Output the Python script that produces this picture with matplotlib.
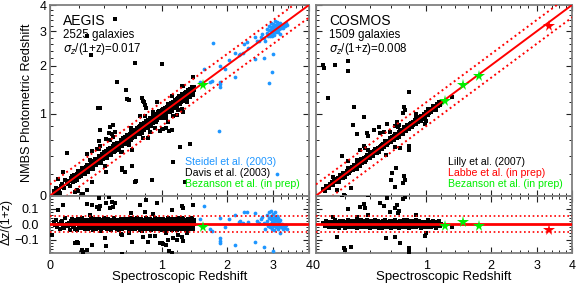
import numpy as np
import matplotlib
matplotlib.use("Agg")
import matplotlib.pyplot as plt
from matplotlib.ticker import FixedLocator, MultipleLocator, NullFormatter, FixedFormatter

plt.rcParams['font.family'] = ['Liberation Sans', 'DejaVu Sans']

# ---------------- DATA ----------------
# AEGIS main band (Davis et al. 2003): zspec (x1000) and dz/(1+z) (x1000)
aegis_band_zs = [22,31,38,47,55,61,70,78,86,93,101,108,117,124,131,138,144,149,
 152,155,159,164,166,171,175,178,183,186,190,195,197,202,206,209,214,217,221,226,228,233,236,240,245,247,252,256,258,263,266,270,274,277,282,285,289,293,295,300,304,307,312,315,319,323,326,331,334,338,342,345,349,353,357,361,364,368,372,375,380,383,387,391,394,398,
 402,405,409,412,416,420,423,427,430,434,438,441,445,448,452,456,459,463,466,470,474,477,481,484,488,492,495,499,502,506,510,513,517,520,524,528,531,535,538,542,546,549,553,556,560,564,567,571,574,578,582,585,589,592,596,600,603,607,610,614,618,621,625,628,632,636,639,643,646,650,654,657,661,664,668,672,675,679,682,686,690,693,697,700,704,708,711,715,718,722,726,729,733,736,740,744,747,751,754,758,762,765,769,772,776,780,783,787,790,794,798,801,805,808,812,816,819,823,826,830,834,837,841,844,848,852,855,859,862,866,870,873,877,880,884,888,891,895,898,902,906,909,913,916,920,924,927,931,934,938,942,945,949,952,956,960,963,967,970,974,978,981,985,988,992,996,999,
 1003,1007,1011,1014,1018,1022,1026,1030,1034,1038,1041,1045,1049,1053,1057,1061,1065,1068,1072,1076,1080,1084,1088,1092,1095,1099,1103,1107,1111,1115,1119,1122,1126,1130,1134,1138,1142,1146,1149,1153,1157,1161,1165,1169,1173,1176,1180,1184,1188,1192,1196,1200,1203,1207,1211,1215,1219,1223,1227,1230,1234,1238,1242,1246,1250,1254,1257,1261,1265,1269,1273,1277,1281,1284,1288,1292,1296,1300,1304,1308,1311,1315,1319,1323,1327,1331,1335,1338,1342,1346,1350,1354,1358,1362,1365,1369,1373,1377,1381,1385,1389,1392,1396,1400,1404,1408,1412,1416,1419,1423,1427,1431,1435,1439,1443,1447]
aegis_band_dz = [14,-6,27,-19,3,-33,11,22,-9,-25,36,1,-14,8,-41,19,-3,30,-22,5,
 -11,24,-29,7,16,-1,-37,12,33,-17,2,-8,21,-27,10,41,-13,-4,18,-21,
 6,-31,15,25,-10,-2,29,-18,9,-35,20,-7,13,-24,37,0,-15,26,-5,-39,
 17,-12,4,31,-23,11,-30,23,-1,8,-16,34,-26,3,14,-9,-43,19,28,-6,
 -20,10,-3,38,-14,21,-28,6,-11,24,-34,15,1,-19,32,-8,12,-25,5,27,
 -2,-36,18,9,-15,29,-7,-22,13,40,-10,3,-27,20,-4,11,-32,25,-16,7,
 23,-9,-40,16,2,-21,30,-13,8,-29,19,-5,35,-18,12,-1,-24,6,28,-11,
 -7,14,-26,33,-3,22,-17,10,-38,4,26,-12,17,-30,1,39,-8,-20,15,-4,
 9,-23,31,-14,18,-2,-33,24,-6,13,-19,36,-10,5,-28,21,-15,2,30,-37,
 -13,27,-1,-24,11,34,-18,7,-42,20,-5,16,-31,3,25,-9,12,-22,38,-16,
 4,-29,21,-8,15,-35,28,-12,0,19,-26,10,-3,33,-20,8,-40,17,-6,24,
 -18,6,-30,26,-4,13,-23,37,-11,2,-34,22,-15,9,29,-7,-27,14,-1,31,
 11,-21,35,-9,-2,20,-32,16,-14,27,-6,3,-39,23,-12,7,32,-19,1,-25,
 28,-3,-17,10,-36,19,-8,25,-22,4,15,-29,39,-13,0,-20,12,-33,21,-5,
 -10,30,-24,6,17,-41,13,-2,26,-16,8,-31,22,-7,34,-21,3,-12,18,-28,
 2,-15,24,-37,12,-5,29,-20,7,-26,36,-11,16,-1,-32,23,-9,14,-23,40,
 -8,19,-27,5,32,-14,-3,21,-35,11,-18,28,-6,15,-38,9,25,-16,0,-30,
 16,-4,-22,35,-12,7,-28,18,-1,-33,23,-10,30,-19,4,-25,13,37,-7,-17,
 -5,22,-34,8,-13,26,-2,-29,17,-9,31,-24,6,-15,20,-36,10,-3,27,-21]

# AEGIS outliers seen in the residual panel: zspec, dz/(1+z)
aegis_near_zs = [0.337,0.365,0.357,0.42,0.47,0.48,0.45,0.30,0.44,0.50,0.36,0.75,0.81,0.94,1.27,1.29,1.13,0.18,0.56,0.66,
                 0.86,1.00,1.15,1.20,1.27,0.23,0.26,1.09,0.41,1.22,0.01,0.086,0.053,0.19,0.22,0.63,0.92,0.98,1.02,1.28,
                 1.43,1.05,1.08,0.78,0.84,0.65,0.90,1.35,0.28,0.55]
aegis_near_dz = [0.112,0.116,0.095,0.134,0.144,0.112,0.101,0.123,0.176,0.137,0.166,0.123,0.079,0.134,0.116,0.101,0.090,-0.114,-0.071,-0.114,
                 -0.077,-0.125,-0.092,-0.103,-0.082,-0.178,-0.168,-0.172,-0.092,-0.071,-0.071,0.123,0.090,-0.125,-0.168,-0.056,-0.077,-0.125,-0.129,-0.108,
                 0.120,-0.060,-0.105,-0.084,-0.114,0.070,0.065,-0.060,0.060,-0.065]
# AEGIS catastrophic outliers (top panel): zspec, zphot
aegis_far_zs = [0.50,0.70,1.00,0.515,0.605,0.612,0.63,0.35,0.365,0.77,0.79,0.80,0.82,0.78,0.48,0.45,0.365,1.14,1.25,1.39,
                1.15,0.565,0.595,0.70,0.71,0.42,0.30,0.11,0.26,0.66,0.88,1.32,1.05,0.26,0.288,0.17,0.56]
aegis_far_zp = [3.44,2.06,2.04,1.62,1.43,1.26,1.24,1.09,1.09,1.28,1.20,1.15,1.10,1.22,0.82,0.79,0.74,0.74,0.51,0.55,
                0.33,0.26,0.22,0.12,0.13,0.22,0.125,0.43,0.42,0.28,0.14,0.125,0.77,2.85,2.28,0.03,0.24]

# Steidel et al. (2003) LBGs: zspec, dz/(1+z)
steidel_zs = [1.61,1.54,1.70,1.74,1.87,1.87,1.88,1.87,1.97,2.05,2.16,2.23,2.25,2.31,2.33,2.40,2.16,2.43,2.58,2.58,
              2.66,2.74,2.77,2.81,2.77,2.70,2.62,2.84,2.86,2.88,2.90,2.91,2.92,2.93,2.94,2.95,2.96,2.97,2.98,2.99,
              3.00,3.01,3.02,3.03,3.04,3.05,3.06,3.07,3.08,3.09,3.10,3.11,3.12,3.13,3.15,3.16,3.18,3.20,3.22,3.25,
              3.28,3.30,3.33,3.35,3.18,3.01]
steidel_dz = [0.118,0.030,-0.034,-0.043,-0.092,-0.125,-0.110,0.040,-0.017,0.030,0.058,0.015,0.020,0.005,0.079,0.079,-0.135,0.015,0.069,-0.114,
              0.005,0.047,0.005,-0.034,-0.150,0.030,0.020,0.060,0.020,-0.010,0.040,0.075,0.000,-0.020,0.030,0.050,0.085,-0.030,0.010,0.040,
              -0.010,0.065,0.020,-0.040,0.045,0.000,0.080,-0.020,0.030,0.055,-0.005,0.020,-0.030,0.040,0.010,-0.015,0.025,-0.020,0.000,-0.030,
              -0.010,-0.025,-0.005,-0.030,-0.060,-0.175]
steidel_far_zs = [1.76,1.85,3.10,2.97,2.89]
steidel_far_zp = [2.62,0.73,0.20,1.85,1.58]

# Bezanson et al. (AEGIS)
bez_aegis_zs = [1.59]
bez_aegis_dz = [-0.016]

# COSMOS main band (Lilly et al. 2007): zspec (x1000), dz/(1+z) (x1000)
cosmos_band_zs = [48,57,66,73,81,88,95,103,109,116,122,128,133,139,144,150,155,160,164,169,173,178,182,186,191,195,199,204,208,212,217,221,225,230,234,238,243,247,251,256,260,264,269,273,277,282,286,290,295,299,
 303,307,311,315,319,323,327,331,335,339,343,347,351,355,359,363,367,371,375,379,383,387,391,395,399,403,407,411,415,419,423,427,431,435,439,443,447,451,455,459,463,467,471,475,479,483,487,491,495,499,503,507,511,515,519,523,527,531,535,539,543,547,551,555,559,563,567,571,575,579,583,587,591,595,599,603,607,611,615,619,623,627,631,635,639,643,647,651,655,659,663,667,671,675,679,683,687,691,695,699,
 704,709,714,719,724,729,734,739,744,749,754,759,764,769,774,779,784,789,794,799,804,809,814,819,824,829,834,839,844,849,854,859,864,869,874,879,884,889,894,899,905,911,917,923,929,935,941,947,953,959,966,973,980,987,994,1001,1009,1017,1025,1033,1042,1051,1060,1070,1080,1090,1101,1112,1124,1137,1150,1165,1182,1200]
cosmos_band_dz = [8,-12,17,-5,2,-21,11,-3,14,-16,5,24,-9,0,-18,10,-26,6,19,-7,
 -2,13,-15,21,-10,4,-23,9,-1,16,-12,7,27,-19,3,-8,12,-4,20,-14,
 6,-17,1,22,-11,15,-6,-25,10,-2,18,-13,4,-20,8,26,-9,13,-3,-16,
 11,-7,19,-1,-22,5,14,-18,3,23,-10,0,-15,9,-5,17,-24,7,-12,21,
 -4,10,-19,2,16,-8,25,-13,6,-3,12,-21,1,18,-9,4,-27,14,-6,9,
 15,-14,3,-24,7,20,-2,11,-17,5,-10,28,-6,13,-20,1,16,-11,8,-3,
 -9,4,22,-16,10,-1,-23,6,17,-12,2,-7,19,-18,12,-4,25,-10,3,-15,
 13,-5,-20,8,1,15,-26,9,-8,21,-13,4,-2,16,-22,11,-6,24,-11,0,
 5,-18,14,-3,26,-10,7,-15,2,-24,12,-1,18,-7,9,-21,3,15,-13,6,
 -6,17,-11,1,-19,23,-4,10,-14,8,20,-9,-2,13,-25,5,11,-16,7,-1,
 12,-8,4,-22,16,-3,9,-17,24,-12,0,14,-20,6,-5,19,-10,2,-26,15,
 -7,21,-14,3,10,-18,5,27,-9,-1,13,-23,8,-4,17,-11,1,22,-15,6]

cosmos_near_zs = [0.225,0.29,0.35,0.36,0.50,0.53,0.66,0.64,0.73,0.75,0.39,0.14,0.19,0.25,0.64,0.70,0.79,0.98,1.35,0.59,
                  0.88,0.115,0.32,0.67,0.20,0.80,1.00,0.56,0.68,0.55]
cosmos_near_dz = [0.097,0.047,0.129,0.101,0.134,0.116,0.123,0.101,0.160,0.176,0.058,-0.082,-0.157,-0.146,-0.082,-0.120,-0.178,-0.077,-0.020,0.079,
                  0.058,0.047,0.112,0.069,-0.168,-0.157,-0.060,0.170,0.083,-0.090]
cosmos_far_zs = [0.047,0.049,0.127,0.225,0.22,0.076,0.27,0.35,0.80,0.74,0.75,0.18,0.61,0.74,0.75,0.64,0.73,0.39,0.38,0.29,
                 0.44,0.49,0.26,0.65,0.60]
cosmos_far_zp = [2.01,1.95,2.01,2.13,1.86,1.29,1.11,0.95,1.39,1.12,1.06,0.40,0.21,0.18,0.14,0.08,0.11,0.65,0.70,0.68,
                 0.74,0.79,0.82,0.26,0.14]

bez_cosmos_zs = [1.25,1.526,1.795]
bez_cosmos_dz = [-0.013,0.010,-0.015]
labbe_zs = [3.33]
labbe_dz = [-0.036]

# ---------------- helpers ----------------
def fwd(z):
    z = np.asarray(z, dtype=float)
    return np.log10(np.clip(1.0 + z, 1e-6, None))

def inv(u):
    return 10 ** np.asarray(u, dtype=float) - 1.0

def zp_from(zs, dz):
    zs = np.asarray(zs, float); dz = np.asarray(dz, float)
    return zs + dz * (1 + zs)

def dz_from(zs, zp):
    zs = np.asarray(zs, float); zp = np.asarray(zp, float)
    return (zp - zs) / (1 + zs)

RED = '#ff0000'
BLUE = '#1e96ff'
GREEN = '#00ee00'
SPINE = '#808080'

fig = plt.figure(figsize=(5.76, 2.88), dpi=100)
W, H = 576.0, 288.0
def rect(x0, x1, y0, y1):
    return [x0 / W, 1 - y1 / H, (x1 - x0) / W, (y1 - y0) / H]

ax_lt = fig.add_axes(rect(50, 309, 5, 195.7))
ax_lb = fig.add_axes(rect(50, 309, 195.7, 252.7))
ax_rt = fig.add_axes(rect(316, 572, 5, 195.7))
ax_rb = fig.add_axes(rect(316, 572, 195.7, 252.7))

zmaj = [0, 1, 2, 3, 4]
zmin = [v for v in np.round(np.arange(0.2, 4.0, 0.2), 1) if abs(v - round(v)) > 1e-6]

def style(ax, top_panel, show_y):
    ax.set_xscale('function', functions=(fwd, inv))
    ax.set_xlim(0, 4)
    ax.xaxis.set_major_locator(FixedLocator(zmaj))
    ax.xaxis.set_minor_locator(FixedLocator(zmin))
    if top_panel:
        ax.set_yscale('function', functions=(fwd, inv))
        ax.set_ylim(0, 4)
        ax.yaxis.set_major_locator(FixedLocator(zmaj))
        ax.yaxis.set_minor_locator(FixedLocator(zmin))
        ax.yaxis.set_major_formatter(FixedFormatter(['0', '1', '2', '3', '4']))
        ax.xaxis.set_major_formatter(NullFormatter())
        ax.tick_params(axis='y', which='major', pad=2.5)
    else:
        ax.set_ylim(-0.185, 0.183)
        ax.yaxis.set_major_locator(FixedLocator([-0.1, 0.0, 0.1]))
        ax.yaxis.set_minor_locator(MultipleLocator(0.02))
        ax.yaxis.set_major_formatter(FixedFormatter(['\u22120.1', '0.0', '0.1']))
        ax.xaxis.set_major_formatter(FixedFormatter(['0', '1', '2', '3', '4']))
        ax.tick_params(axis='y', which='major', pad=8)
        ax.tick_params(axis='x', which='major', pad=5)
    ax.xaxis.set_minor_formatter(NullFormatter())
    ax.yaxis.set_minor_formatter(NullFormatter())
    if not show_y:
        ax.yaxis.set_major_formatter(NullFormatter())
    ax.tick_params(which='both', direction='in', top=True, right=True,
                   color='#222222', labelsize=9)
    ax.tick_params(which='major', length=4.5, width=0.8)
    ax.tick_params(which='minor', length=2.2, width=0.7)
    for s in ax.spines.values():
        s.set_color(SPINE)
        s.set_linewidth(1.3)
    ax.set_facecolor('white')

for ax, tp, sy in [(ax_lt, True, True), (ax_lb, False, True), (ax_rt, True, False), (ax_rb, False, False)]:
    style(ax, tp, sy)

zline = np.linspace(0, 4.2, 200)
def top_lines(ax):
    ax.plot(zline, zline, color=RED, lw=1.4, zorder=4)
    ax.plot(zline, zline + 0.1 * (1 + zline), color=RED, lw=1.4, ls=(0, (1, 1.6)), zorder=4)
    ax.plot(zline, zline - 0.1 * (1 + zline), color=RED, lw=1.4, ls=(0, (1, 1.6)), zorder=4)

def bot_lines(ax):
    ax.axhline(0.0, color=RED, lw=2.0, zorder=4)
    ax.axhline(0.05, color=RED, lw=1.2, ls=(0, (1, 1.6)), zorder=4)
    ax.axhline(-0.05, color=RED, lw=1.2, ls=(0, (1, 1.6)), zorder=4)

def pts(ax_t, ax_b, zs, zp, color, marker='s', ms=2.2):
    zs = np.asarray(zs, float); zp = np.asarray(zp, float)
    ax_t.plot(zs, zp, ls='none', marker=marker, ms=ms, mew=0, color=color, zorder=3, clip_on=True)
    ax_b.plot(zs, dz_from(zs, zp), ls='none', marker=marker, ms=ms, mew=0, color=color, zorder=3, clip_on=True)

# ---- AEGIS ----
n = min(len(aegis_band_zs), len(aegis_band_dz))
a_zs = np.array(aegis_band_zs[:n]) / 1000.0
a_dz = np.array(aegis_band_dz[:n]) / 1000.0
pts(ax_lt, ax_lb, a_zs, zp_from(a_zs, a_dz), 'black', ms=2.5)
pts(ax_lt, ax_lb, aegis_near_zs, zp_from(aegis_near_zs, aegis_near_dz), 'black')
pts(ax_lt, ax_lb, aegis_far_zs, aegis_far_zp, 'black')
pts(ax_lt, ax_lb, steidel_zs, zp_from(steidel_zs, steidel_dz), BLUE, marker='o', ms=2.7)
pts(ax_lt, ax_lb, steidel_far_zs, steidel_far_zp, BLUE, marker='o', ms=2.7)
top_lines(ax_lt); bot_lines(ax_lb)
for ax, y in [(ax_lt, zp_from(bez_aegis_zs, bez_aegis_dz)), (ax_lb, np.asarray(bez_aegis_dz))]:
    ax.plot(bez_aegis_zs, y, ls='none', marker='*', ms=8.5, mew=0, color=GREEN, zorder=5)

# ---- COSMOS ----
n = min(len(cosmos_band_zs), len(cosmos_band_dz))
c_zs = np.array(cosmos_band_zs[:n]) / 1000.0
c_dz = np.array(cosmos_band_dz[:n]) / 1000.0
pts(ax_rt, ax_rb, c_zs, zp_from(c_zs, c_dz), 'black', ms=2.4)
pts(ax_rt, ax_rb, cosmos_near_zs, zp_from(cosmos_near_zs, cosmos_near_dz), 'black')
pts(ax_rt, ax_rb, cosmos_far_zs, cosmos_far_zp, 'black')
top_lines(ax_rt); bot_lines(ax_rb)
for zs_, dz_, col in [(bez_cosmos_zs, bez_cosmos_dz, GREEN), (labbe_zs, labbe_dz, RED)]:
    ax_rt.plot(zs_, zp_from(zs_, dz_), ls='none', marker='*', ms=8.5, mew=0, color=col, zorder=5)
    ax_rb.plot(zs_, dz_, ls='none', marker='*', ms=8.5, mew=0, color=col, zorder=5)

# ---- texts ----
def panel_text(ax, name, ngal, sig):
    ax.text(0.05, 0.915, name, transform=ax.transAxes, fontsize=10, va='center', ha='left')
    ax.text(0.05, 0.843, ngal, transform=ax.transAxes, fontsize=8.3, va='center', ha='left')
    ax.text(0.05, 0.768, r'$\sigma_z$/(1+z)=' + sig, transform=ax.transAxes, fontsize=8.3, va='center', ha='left')

panel_text(ax_lt, 'AEGIS', '2525 galaxies', '0.017')
panel_text(ax_rt, 'COSMOS', '1509 galaxies', '0.008')

leg_y = [0.178, 0.118, 0.061]
for (txt, col), y in zip([('Steidel et al. (2003)', BLUE), ('Davis et al. (2003)', 'black'),
                          ('Bezanson et al. (in prep)', GREEN)], leg_y):
    ax_lt.text(0.521, y, txt, transform=ax_lt.transAxes, fontsize=7.6, color=col, va='center', ha='left')
for (txt, col), y in zip([('Lilly et al. (2007)', 'black'), ('Labbe et al. (in prep)', RED),
                          ('Bezanson et al. (in prep)', GREEN)], leg_y):
    ax_rt.text(0.517, y, txt, transform=ax_rt.transAxes, fontsize=7.6, color=col, va='center', ha='left')

fig.text(27 / W, 1 - 103 / H, 'NMBS Photometric Redshift', rotation=90, fontsize=9.2, va='center', ha='center')
fig.text(6.5 / W, 1 - 222 / H, '\u0394z/(1+z)', rotation=90, fontsize=8.8, va='center', ha='center')
fig.text((50 + 309) / 2 / W, 1 - 277 / H, 'Spectroscopic Redshift', fontsize=9.5, va='center', ha='center')
fig.text((316 + 572) / 2 / W, 1 - 277 / H, 'Spectroscopic Redshift', fontsize=9.5, va='center', ha='center')

fig.savefig('out.png', dpi=100, facecolor='white')
